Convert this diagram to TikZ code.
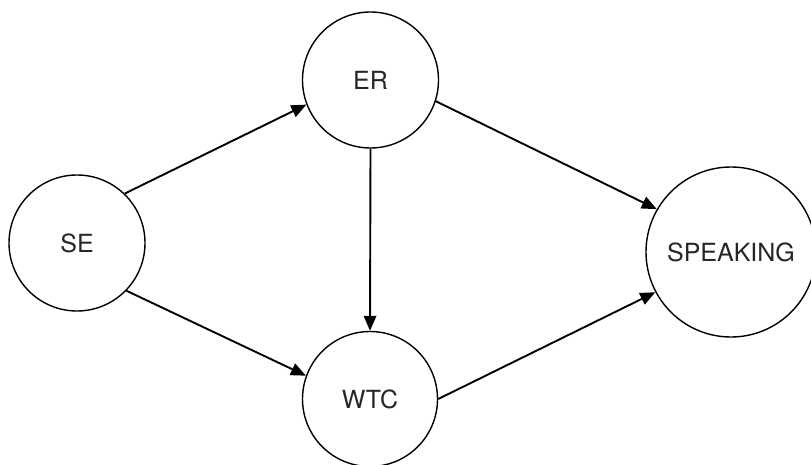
\documentclass[tikz,border=0pt]{standalone}
\usepackage{fontspec}
\setmainfont{TeX Gyre Heros}
\usetikzlibrary{arrows.meta}
\begin{document}
\begin{tikzpicture}[x=1pt,y=-1pt,
  var/.style={circle,draw=black,line width=1.4pt,inner sep=0pt,
    font=\fontsize{25}{30}\selectfont,text=black!85},
  link/.style={line width=1.9pt,-{Triangle[length=15pt,width=12.5pt]}}]
  \clip (0,0) rectangle (811,465);
  \useasboundingbox (0,0) rectangle (811,465);
  \node[var,minimum size=136pt] (se) at (77,243) {SE};
  \node[var,minimum size=136pt] (er) at (370.5,80) {ER};
  \node[var,minimum size=135pt] (wtc) at (370,399) {WTC};
  \node[var,minimum size=170pt] (sp) at (731,252) {SPEAKING};
  \draw[link] (se.46) -- (er.201);
  \draw[link] (se.-44) -- (wtc.160);
  \draw[link] (er.south) -- (wtc.north);
  \draw[link] (er.-18) -- (sp.150);
  \draw[link] (wtc.east) -- (sp.208);
\end{tikzpicture}
\end{document}
